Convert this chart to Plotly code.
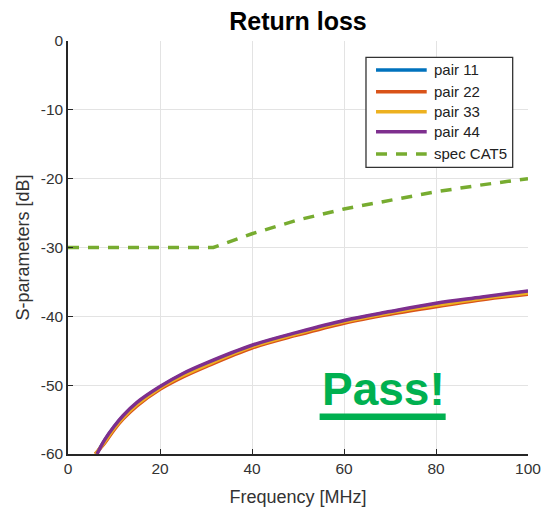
import plotly.graph_objects as go

# ---- data ----
freq_44 = [6.3, 8, 10, 12, 15, 20, 25, 30, 40, 50, 60, 70, 80, 90, 100]
pair44 = [-60, -57.9, -56.0, -54.4, -52.5, -50.2, -48.3, -46.8, -44.2, -42.3, -40.6, -39.3, -38.1, -37.2, -36.3]
freq_11 = [6.2, 8, 10, 12, 15, 20, 25, 30, 40, 50, 60, 70, 80, 90, 100]
pair11 = [-60, -58.0, -56.1, -54.5, -52.6, -50.3, -48.4, -46.9, -44.3, -42.4, -40.7, -39.4, -38.2, -37.3, -36.4]
freq_22 = [5.9, 8, 10, 12, 15, 20, 25, 30, 40, 50, 60, 70, 80, 90, 100]
pair22 = [-60, -58.4, -56.5, -54.9, -53.0, -50.6, -48.8, -47.3, -44.6, -42.7, -41.0, -39.7, -38.6, -37.6, -36.8]
freq_33 = [6.0, 8, 10, 12, 15, 20, 25, 30, 40, 50, 60, 70, 80, 90, 100]
pair33 = [-60, -58.2, -56.3, -54.7, -52.8, -50.4, -48.6, -47.1, -44.4, -42.5, -40.8, -39.5, -38.4, -37.4, -36.6]
freq_spec = [0, 31.6, 40, 50, 60, 70, 80, 90, 100]
spec_cat5 = [-30, -30, -28.0, -26.0, -24.4, -23.1, -21.9, -20.9, -20.0]

series_names = ["pair 11", "pair 22", "pair 33", "pair 44", "spec CAT5"]
x_ticks = [0, 20, 40, 60, 80, 100]
y_ticks = [-60, -50, -40, -30, -20, -10, 0]

FONT = "Liberation Sans, Arial, sans-serif"
COLORS = ["#0072BD", "#D95319", "#EDB120", "#7E2F8E", "#77AC30"]
SPEC_DASH = "11px,9px"

fig = go.Figure()
curves = [(freq_11, pair11), (freq_22, pair22), (freq_33, pair33), (freq_44, pair44)]
for name, (fx, fy), col in zip(series_names[:4], curves, COLORS[:4]):
    fig.add_trace(go.Scatter(x=fx, y=fy, mode="lines", name=name, showlegend=False,
                             line=dict(color=col, width=3.5, shape="spline")))
fig.add_trace(go.Scatter(x=freq_spec, y=spec_cat5, mode="lines", name=series_names[4],
                         showlegend=False,
                         line=dict(color=COLORS[4], width=3.5, dash=SPEC_DASH)))

# ---- hand-built legend (paper coordinates) ----
fig.add_shape(type="rect", xref="paper", yref="paper", x0=0.6478, x1=0.9667,
              y0=0.6942, y1=0.9605, line=dict(color="#333333", width=1.3),
              fillcolor="white", layer="above")
row_y = [0.9298, 0.8772, 0.8288, 0.7804, 0.7264]
for i, (name, col) in enumerate(zip(series_names, COLORS)):
    fig.add_shape(type="line", xref="paper", yref="paper", x0=0.6696, x1=0.7798,
                  y0=row_y[i], y1=row_y[i], layer="above",
                  line=dict(color=col, width=3.5, dash=SPEC_DASH if i == 4 else "solid"))
    fig.add_annotation(x=0.7907, y=row_y[i], xref="paper", yref="paper", text=name,
                       showarrow=False, xanchor="left", yanchor="middle",
                       font=dict(family=FONT, size=15, color="#222222"))

# ---- "Pass!" mark ----
fig.add_annotation(x=68.5, y=-50.5, xref="x", yref="y", text="<b>Pass!</b>",
                   showarrow=False, font=dict(family=FONT, size=46, color="#00B050"))
fig.add_shape(type="line", xref="x", yref="y", x0=54.7, x1=82.1, y0=-54.6, y1=-54.6,
              line=dict(color="#00B050", width=6.5))

fig.update_layout(
    width=544, height=507, autosize=False,
    margin=dict(l=68, r=16, t=41, b=53, autoexpand=False),
    paper_bgcolor="white", plot_bgcolor="white",
    font=dict(family=FONT, size=15.5, color="#333333"),
    title=dict(text="<b>Return loss</b>", x=298 / 544, xanchor="center",
               y=1 - 21 / 507, yanchor="middle", yref="container",
               font=dict(family=FONT, size=25, color="#000000")),
    showlegend=False,
    xaxis=dict(range=[0, 100], tickvals=x_ticks, ticktext=[str(v) for v in x_ticks],
               showgrid=True, gridcolor="#e3e3e3", gridwidth=1, automargin=False,
               showline=True, linecolor="#262626", linewidth=1.5, mirror=False,
               ticks="inside", ticklen=5, tickcolor="#262626", zeroline=False,
               ticklabeloverflow="allow",
               tickfont=dict(size=15.5, color="#333333"),
               title=dict(text="Frequency [MHz]", font=dict(size=18, color="#333333"), standoff=14)),
    yaxis=dict(range=[-60, 0], tickvals=y_ticks, ticktext=[str(v) for v in y_ticks],
               showgrid=True, gridcolor="#e3e3e3", gridwidth=1, automargin=False,
               showline=True, linecolor="#262626", linewidth=1.5, mirror=False,
               ticks="inside", ticklen=5, tickcolor="#262626", zeroline=False,
               ticklabeloverflow="allow",
               tickfont=dict(size=15.5, color="#333333"),
               title=dict(text="S-parameters [dB]", font=dict(size=18, color="#333333"), standoff=6)),
)

# remove the default page margin so the 544x507 figure fills the window exactly
fig.write_html(
    "out.html",
    config={"responsive": False, "displayModeBar": False},
    post_script="document.body.style.margin='0';"
                "document.documentElement.style.overflow='hidden';"
                "document.body.style.overflow='hidden';",
)
